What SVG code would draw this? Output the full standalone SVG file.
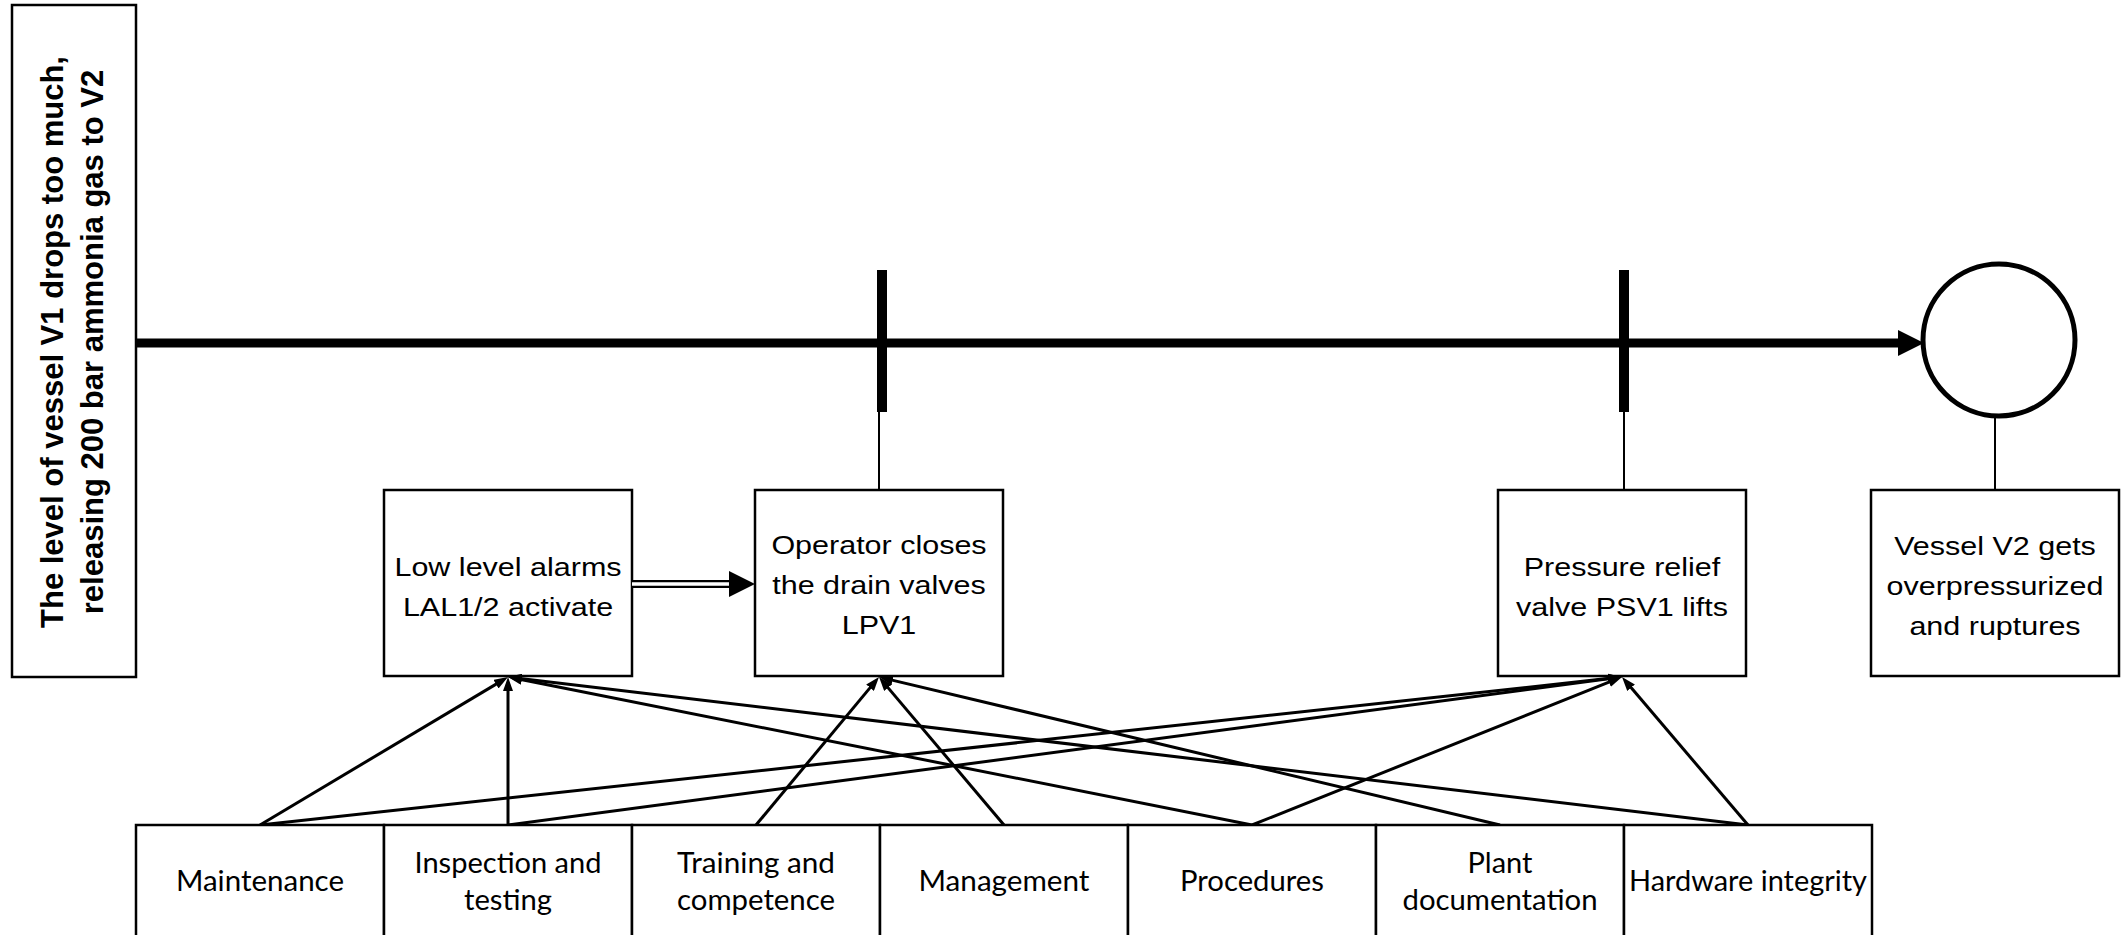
<svg xmlns="http://www.w3.org/2000/svg" width="2121" height="935" viewBox="0 0 2121 935">
<defs>
<style>
.box{fill:#fff;stroke:#000;stroke-width:2.5}
.bt{font-family:"Liberation Sans",Arial,sans-serif;font-size:30.5px;fill:#000;text-anchor:middle}
.lt{font-family:"Liberation Sans",Arial,sans-serif;font-size:31px;font-weight:bold;fill:#000;text-anchor:middle}
.ft{font-family:Lato,"Open Sans",sans-serif;font-size:28px;fill:#000;text-anchor:middle}
.thin{stroke:#000;stroke-width:2;fill:none}
.conn{stroke:#000;stroke-width:3;fill:none;marker-end:url(#ah)}
</style>
<marker id="ah" markerUnits="userSpaceOnUse" markerWidth="14" markerHeight="10" refX="6" refY="5" orient="auto" viewBox="0 0 14 10">
<path d="M0,0 L14,5 L0,10 Z" fill="#000"/>
</marker>
</defs>
<rect width="2121" height="935" fill="#fff"/>

<g id="initiating-event">
<rect class="box" x="12" y="5" width="124" height="672"/>
<text class="lt" transform="translate(63,342) rotate(-90)">The level of vessel V1 drops too much,</text>
<text class="lt" transform="translate(103,342) rotate(-90)">releasing 200 bar ammonia gas to V2</text>
</g>

<g id="timeline">
<line x1="136" y1="343" x2="1900" y2="343" stroke="#000" stroke-width="9"/>
<polygon points="1898,330 1924,343 1898,356" fill="#000"/>
<rect x="877" y="270" width="10" height="142" fill="#000"/>
<rect x="1619" y="270" width="10" height="142" fill="#000"/>
<line class="thin" x1="879" y1="412" x2="879" y2="490"/>
<line class="thin" x1="1624" y1="412" x2="1624" y2="490"/>
<line class="thin" x1="1995" y1="416" x2="1995" y2="490"/>
</g>

<g id="outcome-circle">
<circle cx="1999" cy="340" r="76" fill="#fff" stroke="#000" stroke-width="5"/>
</g>

<g id="lal">
<rect class="box" x="384" y="490" width="248" height="186"/>
<g transform="translate(508,576) scale(1,0.87)">
<text class="bt" x="0" y="0">Low level alarms</text>
<text class="bt" x="0" y="46">LAL1/2 activate</text>
</g>
</g>

<g id="operator">
<rect class="box" x="755" y="490" width="248" height="186"/>
<g transform="translate(879,554) scale(1,0.87)">
<text class="bt" x="0" y="0">Operator closes</text>
<text class="bt" x="0" y="46">the drain valves</text>
<text class="bt" x="0" y="92">LPV1</text>
</g>
</g>

<g id="psv">
<rect class="box" x="1498" y="490" width="248" height="186"/>
<g transform="translate(1622,576) scale(1,0.87)">
<text class="bt" x="0" y="0">Pressure relief</text>
<text class="bt" x="0" y="46">valve PSV1 lifts</text>
</g>
</g>

<g id="vessel-v2">
<rect class="box" x="1871" y="490" width="248" height="186"/>
<g transform="translate(1995,555) scale(1,0.87)">
<text class="bt" x="0" y="0">Vessel V2 gets</text>
<text class="bt" x="0" y="46">overpressurized</text>
<text class="bt" x="0" y="92">and ruptures</text>
</g>
</g>

<g id="connectors">
<line x1="632" y1="584" x2="732" y2="584" stroke="#000" stroke-width="8"/>
<line x1="632" y1="584" x2="734" y2="584" stroke="#fff" stroke-width="3.5"/>
<polygon points="729,571 755,584 729,597" fill="#000"/>
<line class="conn" x1="260" y1="825" x2="501.13" y2="681.10"/>
<line class="conn" x1="508" y1="825" x2="508" y2="685"/>
<line class="conn" x1="1252" y1="825" x2="515.85" y2="678.56"/>
<line class="conn" x1="1748" y1="825" x2="515.94" y2="677.95"/>
<line class="conn" x1="756" y1="825" x2="873.89" y2="683.15"/>
<line class="conn" x1="1004" y1="825" x2="884.16" y2="683.11"/>
<line class="conn" x1="1500" y1="825" x2="886.78" y2="678.85"/>
<line class="conn" x1="260" y1="825" x2="1614.05" y2="677.86"/>
<line class="conn" x1="508" y1="825" x2="1614.07" y2="678.05"/>
<line class="conn" x1="1252" y1="825" x2="1614.57" y2="679.97"/>
<line class="conn" x1="1748" y1="825" x2="1627.19" y2="683.09"/>
</g>

<g id="maintenance">
<rect class="box" x="136" y="825" width="248" height="115"/>
<text class="ft" x="260" y="891" textLength="168" lengthAdjust="spacingAndGlyphs">Maintenance</text>
</g>
<g id="inspection">
<rect class="box" x="384" y="825" width="248" height="115"/>
<text class="ft" x="508" y="872.5" textLength="187" lengthAdjust="spacingAndGlyphs">Inspection and</text>
<text class="ft" x="508" y="910" textLength="88" lengthAdjust="spacingAndGlyphs">testing</text>
</g>
<g id="training">
<rect class="box" x="632" y="825" width="248" height="115"/>
<text class="ft" x="756" y="872.5" textLength="158" lengthAdjust="spacingAndGlyphs">Training and</text>
<text class="ft" x="756" y="910" textLength="158" lengthAdjust="spacingAndGlyphs">competence</text>
</g>
<g id="management">
<rect class="box" x="880" y="825" width="248" height="115"/>
<text class="ft" x="1004" y="891" textLength="171" lengthAdjust="spacingAndGlyphs">Management</text>
</g>
<g id="procedures">
<rect class="box" x="1128" y="825" width="248" height="115"/>
<text class="ft" x="1252" y="891" textLength="144" lengthAdjust="spacingAndGlyphs">Procedures</text>
</g>
<g id="plant-documentation">
<rect class="box" x="1376" y="825" width="248" height="115"/>
<text class="ft" x="1500" y="872.5" textLength="65" lengthAdjust="spacingAndGlyphs">Plant</text>
<text class="ft" x="1500" y="910" textLength="195" lengthAdjust="spacingAndGlyphs">documentation</text>
</g>
<g id="hardware-integrity">
<rect class="box" x="1624" y="825" width="248" height="115"/>
<text class="ft" x="1748" y="891" textLength="238" lengthAdjust="spacingAndGlyphs">Hardware integrity</text>
</g>
</svg>
